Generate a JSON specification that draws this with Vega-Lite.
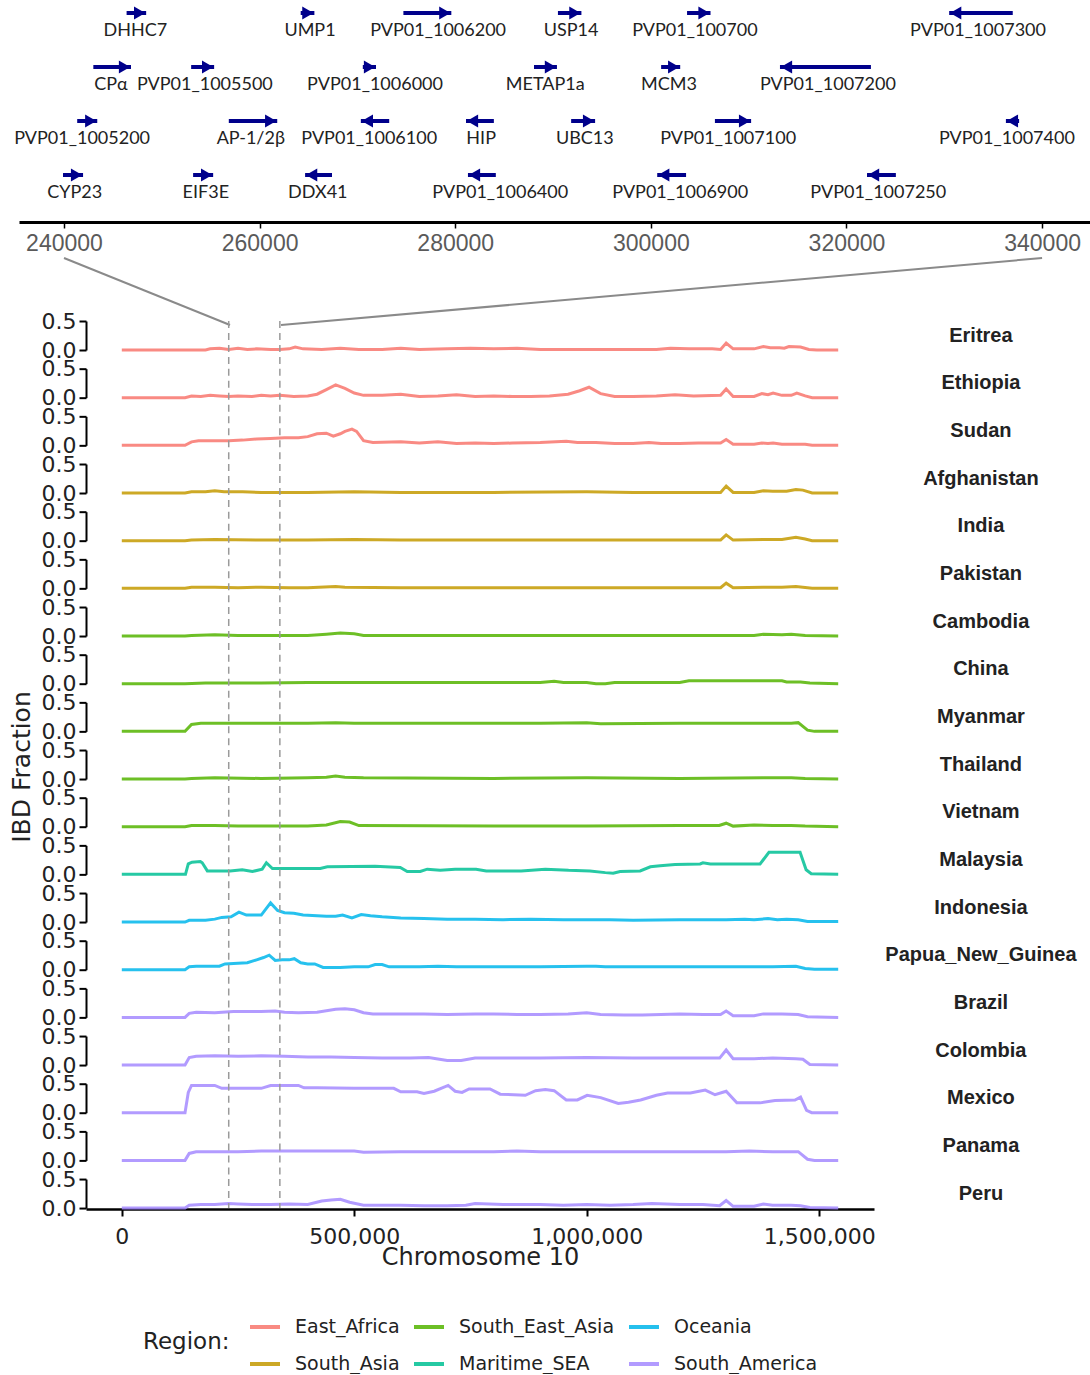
{
"$schema": "https://vega.github.io/schema/vega-lite/v6.json",
"padding": {"left": 9, "top": 0, "right": 0, "bottom": 0},
"background": "white",
"config": {"view": {"stroke": null}, "axis": {"grid": false}, "font": "DejaVu Sans"},
"datasets": {
"genes": [
{"g":"DHHC7","s":"+","t":1,"a":246400,"b":248400,"lx":247300},
{"g":"UMP1","s":"+","t":1,"a":264200,"b":265600,"lx":265150},
{"g":"PVP01_1006200","s":"+","t":1,"a":274700,"b":279600,"lx":278250},
{"g":"USP14","s":"+","t":1,"a":290500,"b":292900,"lx":291850},
{"g":"PVP01_100700","s":"+","t":1,"a":303700,"b":306100,"lx":304500},
{"g":"PVP01_1007300","s":"-","t":1,"a":330500,"b":337000,"lx":333450},
{"g":"CPα","s":"+","t":2,"a":243000,"b":246850,"lx":244800},
{"g":"PVP01_1005500","s":"+","t":2,"a":253000,"b":255350,"lx":254400},
{"g":"PVP01_1006000","s":"+","t":2,"a":270550,"b":271900,"lx":271800},
{"g":"METAP1a","s":"+","t":2,"a":288050,"b":290400,"lx":289200},
{"g":"MCM3","s":"+","t":2,"a":301050,"b":303000,"lx":301850},
{"g":"PVP01_1007200","s":"-","t":2,"a":313200,"b":322500,"lx":318100},
{"g":"PVP01_1005200","s":"+","t":3,"a":241350,"b":243400,"lx":241850},
{"g":"AP-1/2β","s":"+","t":3,"a":256850,"b":261800,"lx":259100},
{"g":"PVP01_1006100","s":"-","t":3,"a":270350,"b":273250,"lx":271200},
{"g":"HIP","s":"-","t":3,"a":281100,"b":283950,"lx":282650},
{"g":"UBC13","s":"+","t":3,"a":291850,"b":294300,"lx":293250},
{"g":"PVP01_1007100","s":"+","t":3,"a":306550,"b":310250,"lx":307900},
{"g":"PVP01_1007400","s":"-","t":3,"a":336300,"b":337650,"lx":336400},
{"g":"CYP23","s":"+","t":4,"a":239900,"b":241950,"lx":241100},
{"g":"EIF3E","s":"+","t":4,"a":253200,"b":255250,"lx":254500},
{"g":"DDX41","s":"-","t":4,"a":264650,"b":267400,"lx":265950},
{"g":"PVP01_1006400","s":"-","t":4,"a":281300,"b":284150,"lx":284600},
{"g":"PVP01_1006900","s":"-","t":4,"a":300650,"b":303600,"lx":303000},
{"g":"PVP01_1007250","s":"-","t":4,"a":322100,"b":325050,"lx":323250}
],
"links": [
{"x1":240000,"y1":5.537,"x2":256974,"y2":6.778},
{"x1":340000,"y1":5.537,"x2":262188,"y2":6.778}
],
"regions": [
{"c":"Eritrea","r":"East_Africa"},{"c":"Ethiopia","r":"East_Africa"},{"c":"Sudan","r":"East_Africa"},
{"c":"Afghanistan","r":"South_Asia"},{"c":"India","r":"South_Asia"},{"c":"Pakistan","r":"South_Asia"},
{"c":"Cambodia","r":"South_East_Asia"},{"c":"China","r":"South_East_Asia"},{"c":"Myanmar","r":"South_East_Asia"},{"c":"Thailand","r":"South_East_Asia"},{"c":"Vietnam","r":"South_East_Asia"},
{"c":"Malaysia","r":"Maritime_SEA"},
{"c":"Indonesia","r":"Oceania"},{"c":"Papua_New_Guinea","r":"Oceania"},
{"c":"Brazil","r":"South_America"},{"c":"Colombia","r":"South_America"},{"c":"Mexico","r":"South_America"},{"c":"Panama","r":"South_America"},{"c":"Peru","r":"South_America"}
],
"ibd": [
{"c":"Eritrea","p":0,"v":0},{"c":"Eritrea","p":136000,"v":0},{"c":"Eritrea","p":180000,"v":0},{"c":"Eritrea","p":190000,"v":0.02},{"c":"Eritrea","p":210000,"v":0.03},{"c":"Eritrea","p":230000,"v":0.01},{"c":"Eritrea","p":250000,"v":0.03},{"c":"Eritrea","p":270000,"v":0.01},{"c":"Eritrea","p":290000,"v":0.02},{"c":"Eritrea","p":320000,"v":0.01},{"c":"Eritrea","p":340000,"v":0.01},{"c":"Eritrea","p":360000,"v":0.02},{"c":"Eritrea","p":373000,"v":0.05},{"c":"Eritrea","p":390000,"v":0.02},{"c":"Eritrea","p":430000,"v":0.01},{"c":"Eritrea","p":470000,"v":0.03},{"c":"Eritrea","p":510000,"v":0.01},{"c":"Eritrea","p":560000,"v":0.01},{"c":"Eritrea","p":600000,"v":0.03},{"c":"Eritrea","p":640000,"v":0.01},{"c":"Eritrea","p":700000,"v":0.02},{"c":"Eritrea","p":750000,"v":0.03},{"c":"Eritrea","p":800000,"v":0.02},{"c":"Eritrea","p":850000,"v":0.03},{"c":"Eritrea","p":900000,"v":0.01},{"c":"Eritrea","p":1000000,"v":0.01},{"c":"Eritrea","p":1100000,"v":0.01},{"c":"Eritrea","p":1150000,"v":0.01},{"c":"Eritrea","p":1180000,"v":0.03},{"c":"Eritrea","p":1220000,"v":0.02},{"c":"Eritrea","p":1270000,"v":0.02},{"c":"Eritrea","p":1288000,"v":0.01},{"c":"Eritrea","p":1300000,"v":0.12},{"c":"Eritrea","p":1315000,"v":0.02},{"c":"Eritrea","p":1360000,"v":0.02},{"c":"Eritrea","p":1380000,"v":0.06},{"c":"Eritrea","p":1395000,"v":0.04},{"c":"Eritrea","p":1415000,"v":0.04},{"c":"Eritrea","p":1425000,"v":0.03},{"c":"Eritrea","p":1435000,"v":0.06},{"c":"Eritrea","p":1460000,"v":0.05},{"c":"Eritrea","p":1478000,"v":0.01},{"c":"Eritrea","p":1495000,"v":0},{"c":"Eritrea","p":1541000,"v":0},
{"c":"Ethiopia","p":0,"v":0},{"c":"Ethiopia","p":136000,"v":0},{"c":"Ethiopia","p":150000,"v":0.03},{"c":"Ethiopia","p":170000,"v":0.02},{"c":"Ethiopia","p":190000,"v":0.04},{"c":"Ethiopia","p":210000,"v":0.03},{"c":"Ethiopia","p":230000,"v":0.02},{"c":"Ethiopia","p":250000,"v":0.03},{"c":"Ethiopia","p":280000,"v":0.02},{"c":"Ethiopia","p":300000,"v":0.04},{"c":"Ethiopia","p":320000,"v":0.03},{"c":"Ethiopia","p":340000,"v":0.04},{"c":"Ethiopia","p":370000,"v":0.02},{"c":"Ethiopia","p":400000,"v":0.03},{"c":"Ethiopia","p":420000,"v":0.06},{"c":"Ethiopia","p":440000,"v":0.14},{"c":"Ethiopia","p":460000,"v":0.22},{"c":"Ethiopia","p":480000,"v":0.16},{"c":"Ethiopia","p":500000,"v":0.08},{"c":"Ethiopia","p":520000,"v":0.04},{"c":"Ethiopia","p":560000,"v":0.04},{"c":"Ethiopia","p":600000,"v":0.06},{"c":"Ethiopia","p":640000,"v":0.02},{"c":"Ethiopia","p":680000,"v":0.03},{"c":"Ethiopia","p":720000,"v":0.05},{"c":"Ethiopia","p":760000,"v":0.02},{"c":"Ethiopia","p":800000,"v":0.03},{"c":"Ethiopia","p":840000,"v":0.02},{"c":"Ethiopia","p":880000,"v":0.02},{"c":"Ethiopia","p":920000,"v":0.03},{"c":"Ethiopia","p":960000,"v":0.06},{"c":"Ethiopia","p":985000,"v":0.12},{"c":"Ethiopia","p":1005000,"v":0.18},{"c":"Ethiopia","p":1030000,"v":0.07},{"c":"Ethiopia","p":1060000,"v":0.02},{"c":"Ethiopia","p":1100000,"v":0.02},{"c":"Ethiopia","p":1150000,"v":0.03},{"c":"Ethiopia","p":1190000,"v":0.05},{"c":"Ethiopia","p":1230000,"v":0.03},{"c":"Ethiopia","p":1288000,"v":0.04},{"c":"Ethiopia","p":1300000,"v":0.15},{"c":"Ethiopia","p":1315000,"v":0.02},{"c":"Ethiopia","p":1360000,"v":0.02},{"c":"Ethiopia","p":1377000,"v":0.07},{"c":"Ethiopia","p":1390000,"v":0.05},{"c":"Ethiopia","p":1401000,"v":0.08},{"c":"Ethiopia","p":1420000,"v":0.04},{"c":"Ethiopia","p":1440000,"v":0.04},{"c":"Ethiopia","p":1452000,"v":0.08},{"c":"Ethiopia","p":1470000,"v":0.03},{"c":"Ethiopia","p":1485000,"v":0},{"c":"Ethiopia","p":1541000,"v":0},
{"c":"Sudan","p":0,"v":0},{"c":"Sudan","p":136000,"v":0},{"c":"Sudan","p":150000,"v":0.06},{"c":"Sudan","p":165000,"v":0.08},{"c":"Sudan","p":200000,"v":0.08},{"c":"Sudan","p":230000,"v":0.08},{"c":"Sudan","p":260000,"v":0.09},{"c":"Sudan","p":290000,"v":0.11},{"c":"Sudan","p":320000,"v":0.12},{"c":"Sudan","p":350000,"v":0.13},{"c":"Sudan","p":380000,"v":0.13},{"c":"Sudan","p":400000,"v":0.15},{"c":"Sudan","p":420000,"v":0.2},{"c":"Sudan","p":440000,"v":0.21},{"c":"Sudan","p":455000,"v":0.16},{"c":"Sudan","p":470000,"v":0.2},{"c":"Sudan","p":480000,"v":0.24},{"c":"Sudan","p":495000,"v":0.28},{"c":"Sudan","p":505000,"v":0.24},{"c":"Sudan","p":520000,"v":0.08},{"c":"Sudan","p":540000,"v":0.05},{"c":"Sudan","p":600000,"v":0.06},{"c":"Sudan","p":640000,"v":0.04},{"c":"Sudan","p":680000,"v":0.06},{"c":"Sudan","p":720000,"v":0.03},{"c":"Sudan","p":760000,"v":0.04},{"c":"Sudan","p":800000,"v":0.03},{"c":"Sudan","p":840000,"v":0.04},{"c":"Sudan","p":900000,"v":0.05},{"c":"Sudan","p":956000,"v":0.07},{"c":"Sudan","p":980000,"v":0.05},{"c":"Sudan","p":1020000,"v":0.05},{"c":"Sudan","p":1060000,"v":0.03},{"c":"Sudan","p":1100000,"v":0.03},{"c":"Sudan","p":1134000,"v":0.05},{"c":"Sudan","p":1160000,"v":0.03},{"c":"Sudan","p":1200000,"v":0.03},{"c":"Sudan","p":1240000,"v":0.04},{"c":"Sudan","p":1288000,"v":0.04},{"c":"Sudan","p":1300000,"v":0.1},{"c":"Sudan","p":1315000,"v":0.02},{"c":"Sudan","p":1360000,"v":0.02},{"c":"Sudan","p":1377000,"v":0.04},{"c":"Sudan","p":1390000,"v":0.03},{"c":"Sudan","p":1401000,"v":0.04},{"c":"Sudan","p":1420000,"v":0.02},{"c":"Sudan","p":1470000,"v":0.02},{"c":"Sudan","p":1485000,"v":0},{"c":"Sudan","p":1541000,"v":0},
{"c":"Afghanistan","p":0,"v":0},{"c":"Afghanistan","p":136000,"v":0},{"c":"Afghanistan","p":150000,"v":0.02},{"c":"Afghanistan","p":180000,"v":0.02},{"c":"Afghanistan","p":200000,"v":0.04},{"c":"Afghanistan","p":220000,"v":0.02},{"c":"Afghanistan","p":260000,"v":0.02},{"c":"Afghanistan","p":300000,"v":0.01},{"c":"Afghanistan","p":400000,"v":0.01},{"c":"Afghanistan","p":500000,"v":0.02},{"c":"Afghanistan","p":600000,"v":0.01},{"c":"Afghanistan","p":800000,"v":0.01},{"c":"Afghanistan","p":1000000,"v":0.02},{"c":"Afghanistan","p":1100000,"v":0.01},{"c":"Afghanistan","p":1200000,"v":0.01},{"c":"Afghanistan","p":1288000,"v":0.01},{"c":"Afghanistan","p":1300000,"v":0.12},{"c":"Afghanistan","p":1315000,"v":0.01},{"c":"Afghanistan","p":1360000,"v":0.01},{"c":"Afghanistan","p":1380000,"v":0.04},{"c":"Afghanistan","p":1400000,"v":0.03},{"c":"Afghanistan","p":1430000,"v":0.03},{"c":"Afghanistan","p":1450000,"v":0.06},{"c":"Afghanistan","p":1465000,"v":0.05},{"c":"Afghanistan","p":1485000,"v":0},{"c":"Afghanistan","p":1541000,"v":0},
{"c":"India","p":0,"v":0},{"c":"India","p":136000,"v":0},{"c":"India","p":150000,"v":0.01},{"c":"India","p":200000,"v":0.02},{"c":"India","p":300000,"v":0.01},{"c":"India","p":400000,"v":0.01},{"c":"India","p":500000,"v":0.02},{"c":"India","p":600000,"v":0.01},{"c":"India","p":800000,"v":0.01},{"c":"India","p":1000000,"v":0.01},{"c":"India","p":1200000,"v":0.01},{"c":"India","p":1288000,"v":0.01},{"c":"India","p":1300000,"v":0.1},{"c":"India","p":1315000,"v":0.01},{"c":"India","p":1380000,"v":0.02},{"c":"India","p":1420000,"v":0.02},{"c":"India","p":1450000,"v":0.06},{"c":"India","p":1470000,"v":0.03},{"c":"India","p":1485000,"v":0},{"c":"India","p":1541000,"v":0},
{"c":"Pakistan","p":0,"v":0},{"c":"Pakistan","p":136000,"v":0},{"c":"Pakistan","p":150000,"v":0.02},{"c":"Pakistan","p":200000,"v":0.02},{"c":"Pakistan","p":250000,"v":0.01},{"c":"Pakistan","p":300000,"v":0.02},{"c":"Pakistan","p":360000,"v":0.01},{"c":"Pakistan","p":400000,"v":0.01},{"c":"Pakistan","p":460000,"v":0.03},{"c":"Pakistan","p":480000,"v":0.02},{"c":"Pakistan","p":600000,"v":0.01},{"c":"Pakistan","p":800000,"v":0.01},{"c":"Pakistan","p":1000000,"v":0.01},{"c":"Pakistan","p":1200000,"v":0.01},{"c":"Pakistan","p":1288000,"v":0.01},{"c":"Pakistan","p":1300000,"v":0.09},{"c":"Pakistan","p":1315000,"v":0.01},{"c":"Pakistan","p":1380000,"v":0.02},{"c":"Pakistan","p":1420000,"v":0.02},{"c":"Pakistan","p":1450000,"v":0.03},{"c":"Pakistan","p":1485000,"v":0},{"c":"Pakistan","p":1541000,"v":0},
{"c":"Cambodia","p":0,"v":0},{"c":"Cambodia","p":136000,"v":0},{"c":"Cambodia","p":150000,"v":0.01},{"c":"Cambodia","p":200000,"v":0.02},{"c":"Cambodia","p":250000,"v":0.01},{"c":"Cambodia","p":300000,"v":0.01},{"c":"Cambodia","p":400000,"v":0.01},{"c":"Cambodia","p":440000,"v":0.03},{"c":"Cambodia","p":470000,"v":0.05},{"c":"Cambodia","p":500000,"v":0.04},{"c":"Cambodia","p":520000,"v":0.01},{"c":"Cambodia","p":800000,"v":0.01},{"c":"Cambodia","p":1000000,"v":0.01},{"c":"Cambodia","p":1200000,"v":0.01},{"c":"Cambodia","p":1360000,"v":0.01},{"c":"Cambodia","p":1380000,"v":0.03},{"c":"Cambodia","p":1420000,"v":0.02},{"c":"Cambodia","p":1440000,"v":0.03},{"c":"Cambodia","p":1470000,"v":0.01},{"c":"Cambodia","p":1541000,"v":0},
{"c":"China","p":0,"v":0},{"c":"China","p":136000,"v":0},{"c":"China","p":180000,"v":0.01},{"c":"China","p":300000,"v":0.01},{"c":"China","p":400000,"v":0.02},{"c":"China","p":500000,"v":0.02},{"c":"China","p":800000,"v":0.02},{"c":"China","p":900000,"v":0.02},{"c":"China","p":930000,"v":0.04},{"c":"China","p":950000,"v":0.02},{"c":"China","p":1000000,"v":0.02},{"c":"China","p":1020000,"v":0},{"c":"China","p":1040000,"v":0},{"c":"China","p":1060000,"v":0.02},{"c":"China","p":1200000,"v":0.02},{"c":"China","p":1220000,"v":0.05},{"c":"China","p":1420000,"v":0.05},{"c":"China","p":1430000,"v":0.03},{"c":"China","p":1460000,"v":0.03},{"c":"China","p":1480000,"v":0.01},{"c":"China","p":1541000,"v":0},
{"c":"Myanmar","p":0,"v":0},{"c":"Myanmar","p":136000,"v":0},{"c":"Myanmar","p":150000,"v":0.12},{"c":"Myanmar","p":170000,"v":0.14},{"c":"Myanmar","p":300000,"v":0.14},{"c":"Myanmar","p":400000,"v":0.14},{"c":"Myanmar","p":460000,"v":0.15},{"c":"Myanmar","p":500000,"v":0.14},{"c":"Myanmar","p":700000,"v":0.14},{"c":"Myanmar","p":900000,"v":0.14},{"c":"Myanmar","p":1000000,"v":0.15},{"c":"Myanmar","p":1030000,"v":0.13},{"c":"Myanmar","p":1200000,"v":0.14},{"c":"Myanmar","p":1300000,"v":0.14},{"c":"Myanmar","p":1440000,"v":0.14},{"c":"Myanmar","p":1455000,"v":0.15},{"c":"Myanmar","p":1475000,"v":0.02},{"c":"Myanmar","p":1490000,"v":0},{"c":"Myanmar","p":1541000,"v":0},
{"c":"Thailand","p":0,"v":0},{"c":"Thailand","p":136000,"v":0},{"c":"Thailand","p":150000,"v":0.01},{"c":"Thailand","p":200000,"v":0.02},{"c":"Thailand","p":300000,"v":0.01},{"c":"Thailand","p":400000,"v":0.02},{"c":"Thailand","p":440000,"v":0.03},{"c":"Thailand","p":460000,"v":0.05},{"c":"Thailand","p":480000,"v":0.03},{"c":"Thailand","p":520000,"v":0.02},{"c":"Thailand","p":800000,"v":0.01},{"c":"Thailand","p":1000000,"v":0.02},{"c":"Thailand","p":1200000,"v":0.01},{"c":"Thailand","p":1380000,"v":0.02},{"c":"Thailand","p":1440000,"v":0.02},{"c":"Thailand","p":1470000,"v":0.01},{"c":"Thailand","p":1541000,"v":0},
{"c":"Vietnam","p":0,"v":0},{"c":"Vietnam","p":136000,"v":0},{"c":"Vietnam","p":150000,"v":0.02},{"c":"Vietnam","p":200000,"v":0.02},{"c":"Vietnam","p":250000,"v":0.01},{"c":"Vietnam","p":300000,"v":0.01},{"c":"Vietnam","p":400000,"v":0.01},{"c":"Vietnam","p":440000,"v":0.03},{"c":"Vietnam","p":470000,"v":0.09},{"c":"Vietnam","p":490000,"v":0.08},{"c":"Vietnam","p":510000,"v":0.02},{"c":"Vietnam","p":800000,"v":0.01},{"c":"Vietnam","p":1000000,"v":0.01},{"c":"Vietnam","p":1200000,"v":0.02},{"c":"Vietnam","p":1285000,"v":0.02},{"c":"Vietnam","p":1300000,"v":0.06},{"c":"Vietnam","p":1315000,"v":0.01},{"c":"Vietnam","p":1360000,"v":0.03},{"c":"Vietnam","p":1400000,"v":0.02},{"c":"Vietnam","p":1440000,"v":0.02},{"c":"Vietnam","p":1470000,"v":0.01},{"c":"Vietnam","p":1541000,"v":0},
{"c":"Malaysia","p":0,"v":0},{"c":"Malaysia","p":137000,"v":0},{"c":"Malaysia","p":143000,"v":0.18},{"c":"Malaysia","p":151000,"v":0.21},{"c":"Malaysia","p":169000,"v":0.22},{"c":"Malaysia","p":173000,"v":0.2},{"c":"Malaysia","p":184000,"v":0.06},{"c":"Malaysia","p":233000,"v":0.06},{"c":"Malaysia","p":259000,"v":0.08},{"c":"Malaysia","p":281000,"v":0.05},{"c":"Malaysia","p":302000,"v":0.09},{"c":"Malaysia","p":311000,"v":0.2},{"c":"Malaysia","p":324000,"v":0.1},{"c":"Malaysia","p":427000,"v":0.1},{"c":"Malaysia","p":442000,"v":0.13},{"c":"Malaysia","p":545000,"v":0.14},{"c":"Malaysia","p":599000,"v":0.12},{"c":"Malaysia","p":614000,"v":0.05},{"c":"Malaysia","p":642000,"v":0.05},{"c":"Malaysia","p":657000,"v":0.09},{"c":"Malaysia","p":685000,"v":0.07},{"c":"Malaysia","p":717000,"v":0.09},{"c":"Malaysia","p":762000,"v":0.09},{"c":"Malaysia","p":784000,"v":0.06},{"c":"Malaysia","p":859000,"v":0.06},{"c":"Malaysia","p":911000,"v":0.09},{"c":"Malaysia","p":961000,"v":0.07},{"c":"Malaysia","p":1007000,"v":0.06},{"c":"Malaysia","p":1040000,"v":0.03},{"c":"Malaysia","p":1057000,"v":0.02},{"c":"Malaysia","p":1072000,"v":0.05},{"c":"Malaysia","p":1115000,"v":0.06},{"c":"Malaysia","p":1137000,"v":0.13},{"c":"Malaysia","p":1158000,"v":0.15},{"c":"Malaysia","p":1190000,"v":0.17},{"c":"Malaysia","p":1244000,"v":0.18},{"c":"Malaysia","p":1250000,"v":0.2},{"c":"Malaysia","p":1266000,"v":0.18},{"c":"Malaysia","p":1373000,"v":0.18},{"c":"Malaysia","p":1392000,"v":0.38},{"c":"Malaysia","p":1459000,"v":0.38},{"c":"Malaysia","p":1472000,"v":0.08},{"c":"Malaysia","p":1483000,"v":0.01},{"c":"Malaysia","p":1541000,"v":0},
{"c":"Indonesia","p":0,"v":0},{"c":"Indonesia","p":136000,"v":0},{"c":"Indonesia","p":145000,"v":0.03},{"c":"Indonesia","p":180000,"v":0.03},{"c":"Indonesia","p":200000,"v":0.05},{"c":"Indonesia","p":215000,"v":0.08},{"c":"Indonesia","p":235000,"v":0.09},{"c":"Indonesia","p":252000,"v":0.17},{"c":"Indonesia","p":268000,"v":0.12},{"c":"Indonesia","p":300000,"v":0.12},{"c":"Indonesia","p":320000,"v":0.33},{"c":"Indonesia","p":335000,"v":0.2},{"c":"Indonesia","p":350000,"v":0.16},{"c":"Indonesia","p":370000,"v":0.15},{"c":"Indonesia","p":390000,"v":0.12},{"c":"Indonesia","p":420000,"v":0.11},{"c":"Indonesia","p":440000,"v":0.1},{"c":"Indonesia","p":460000,"v":0.1},{"c":"Indonesia","p":475000,"v":0.12},{"c":"Indonesia","p":495000,"v":0.07},{"c":"Indonesia","p":515000,"v":0.13},{"c":"Indonesia","p":535000,"v":0.11},{"c":"Indonesia","p":560000,"v":0.09},{"c":"Indonesia","p":600000,"v":0.07},{"c":"Indonesia","p":650000,"v":0.06},{"c":"Indonesia","p":700000,"v":0.05},{"c":"Indonesia","p":760000,"v":0.05},{"c":"Indonesia","p":820000,"v":0.04},{"c":"Indonesia","p":880000,"v":0.05},{"c":"Indonesia","p":950000,"v":0.04},{"c":"Indonesia","p":1000000,"v":0.04},{"c":"Indonesia","p":1050000,"v":0.04},{"c":"Indonesia","p":1100000,"v":0.03},{"c":"Indonesia","p":1200000,"v":0.04},{"c":"Indonesia","p":1300000,"v":0.04},{"c":"Indonesia","p":1340000,"v":0.05},{"c":"Indonesia","p":1360000,"v":0.04},{"c":"Indonesia","p":1390000,"v":0.06},{"c":"Indonesia","p":1410000,"v":0.04},{"c":"Indonesia","p":1430000,"v":0.05},{"c":"Indonesia","p":1455000,"v":0.04},{"c":"Indonesia","p":1475000,"v":0.01},{"c":"Indonesia","p":1541000,"v":0.01},
{"c":"Papua_New_Guinea","p":0,"v":0},{"c":"Papua_New_Guinea","p":136000,"v":0},{"c":"Papua_New_Guinea","p":145000,"v":0.05},{"c":"Papua_New_Guinea","p":160000,"v":0.06},{"c":"Papua_New_Guinea","p":210000,"v":0.06},{"c":"Papua_New_Guinea","p":222000,"v":0.1},{"c":"Papua_New_Guinea","p":250000,"v":0.11},{"c":"Papua_New_Guinea","p":270000,"v":0.12},{"c":"Papua_New_Guinea","p":290000,"v":0.17},{"c":"Papua_New_Guinea","p":305000,"v":0.21},{"c":"Papua_New_Guinea","p":317000,"v":0.25},{"c":"Papua_New_Guinea","p":330000,"v":0.16},{"c":"Papua_New_Guinea","p":345000,"v":0.17},{"c":"Papua_New_Guinea","p":360000,"v":0.17},{"c":"Papua_New_Guinea","p":371000,"v":0.19},{"c":"Papua_New_Guinea","p":385000,"v":0.12},{"c":"Papua_New_Guinea","p":400000,"v":0.1},{"c":"Papua_New_Guinea","p":415000,"v":0.1},{"c":"Papua_New_Guinea","p":433000,"v":0.04},{"c":"Papua_New_Guinea","p":470000,"v":0.04},{"c":"Papua_New_Guinea","p":500000,"v":0.05},{"c":"Papua_New_Guinea","p":530000,"v":0.05},{"c":"Papua_New_Guinea","p":545000,"v":0.09},{"c":"Papua_New_Guinea","p":560000,"v":0.09},{"c":"Papua_New_Guinea","p":575000,"v":0.05},{"c":"Papua_New_Guinea","p":640000,"v":0.05},{"c":"Papua_New_Guinea","p":680000,"v":0.06},{"c":"Papua_New_Guinea","p":720000,"v":0.05},{"c":"Papua_New_Guinea","p":800000,"v":0.05},{"c":"Papua_New_Guinea","p":900000,"v":0.05},{"c":"Papua_New_Guinea","p":1000000,"v":0.06},{"c":"Papua_New_Guinea","p":1020000,"v":0.06},{"c":"Papua_New_Guinea","p":1040000,"v":0.05},{"c":"Papua_New_Guinea","p":1200000,"v":0.05},{"c":"Papua_New_Guinea","p":1300000,"v":0.05},{"c":"Papua_New_Guinea","p":1400000,"v":0.05},{"c":"Papua_New_Guinea","p":1450000,"v":0.06},{"c":"Papua_New_Guinea","p":1470000,"v":0.02},{"c":"Papua_New_Guinea","p":1490000,"v":0.01},{"c":"Papua_New_Guinea","p":1541000,"v":0.01},
{"c":"Brazil","p":0,"v":0},{"c":"Brazil","p":136000,"v":0},{"c":"Brazil","p":145000,"v":0.07},{"c":"Brazil","p":160000,"v":0.09},{"c":"Brazil","p":200000,"v":0.08},{"c":"Brazil","p":240000,"v":0.1},{"c":"Brazil","p":270000,"v":0.1},{"c":"Brazil","p":300000,"v":0.1},{"c":"Brazil","p":330000,"v":0.11},{"c":"Brazil","p":350000,"v":0.09},{"c":"Brazil","p":380000,"v":0.08},{"c":"Brazil","p":420000,"v":0.09},{"c":"Brazil","p":460000,"v":0.14},{"c":"Brazil","p":480000,"v":0.15},{"c":"Brazil","p":500000,"v":0.13},{"c":"Brazil","p":520000,"v":0.08},{"c":"Brazil","p":540000,"v":0.06},{"c":"Brazil","p":600000,"v":0.06},{"c":"Brazil","p":650000,"v":0.06},{"c":"Brazil","p":700000,"v":0.05},{"c":"Brazil","p":760000,"v":0.06},{"c":"Brazil","p":800000,"v":0.06},{"c":"Brazil","p":850000,"v":0.05},{"c":"Brazil","p":900000,"v":0.05},{"c":"Brazil","p":960000,"v":0.06},{"c":"Brazil","p":1000000,"v":0.08},{"c":"Brazil","p":1030000,"v":0.05},{"c":"Brazil","p":1080000,"v":0.04},{"c":"Brazil","p":1120000,"v":0.04},{"c":"Brazil","p":1160000,"v":0.05},{"c":"Brazil","p":1200000,"v":0.06},{"c":"Brazil","p":1250000,"v":0.05},{"c":"Brazil","p":1288000,"v":0.05},{"c":"Brazil","p":1300000,"v":0.11},{"c":"Brazil","p":1315000,"v":0.03},{"c":"Brazil","p":1360000,"v":0.03},{"c":"Brazil","p":1380000,"v":0.06},{"c":"Brazil","p":1420000,"v":0.06},{"c":"Brazil","p":1455000,"v":0.05},{"c":"Brazil","p":1475000,"v":0.01},{"c":"Brazil","p":1541000,"v":0},
{"c":"Colombia","p":0,"v":0},{"c":"Colombia","p":136000,"v":0},{"c":"Colombia","p":145000,"v":0.13},{"c":"Colombia","p":160000,"v":0.15},{"c":"Colombia","p":200000,"v":0.16},{"c":"Colombia","p":250000,"v":0.15},{"c":"Colombia","p":300000,"v":0.16},{"c":"Colombia","p":350000,"v":0.15},{"c":"Colombia","p":400000,"v":0.14},{"c":"Colombia","p":450000,"v":0.14},{"c":"Colombia","p":500000,"v":0.13},{"c":"Colombia","p":560000,"v":0.12},{"c":"Colombia","p":620000,"v":0.12},{"c":"Colombia","p":660000,"v":0.13},{"c":"Colombia","p":700000,"v":0.08},{"c":"Colombia","p":730000,"v":0.08},{"c":"Colombia","p":760000,"v":0.12},{"c":"Colombia","p":800000,"v":0.12},{"c":"Colombia","p":900000,"v":0.12},{"c":"Colombia","p":1000000,"v":0.13},{"c":"Colombia","p":1100000,"v":0.12},{"c":"Colombia","p":1200000,"v":0.12},{"c":"Colombia","p":1286000,"v":0.12},{"c":"Colombia","p":1300000,"v":0.26},{"c":"Colombia","p":1315000,"v":0.11},{"c":"Colombia","p":1360000,"v":0.11},{"c":"Colombia","p":1400000,"v":0.12},{"c":"Colombia","p":1450000,"v":0.11},{"c":"Colombia","p":1465000,"v":0.1},{"c":"Colombia","p":1480000,"v":0.01},{"c":"Colombia","p":1541000,"v":0},
{"c":"Mexico","p":0,"v":0},{"c":"Mexico","p":136000,"v":0},{"c":"Mexico","p":143000,"v":0.35},{"c":"Mexico","p":150000,"v":0.47},{"c":"Mexico","p":200000,"v":0.47},{"c":"Mexico","p":215000,"v":0.42},{"c":"Mexico","p":300000,"v":0.42},{"c":"Mexico","p":320000,"v":0.47},{"c":"Mexico","p":380000,"v":0.47},{"c":"Mexico","p":392000,"v":0.43},{"c":"Mexico","p":420000,"v":0.43},{"c":"Mexico","p":500000,"v":0.42},{"c":"Mexico","p":585000,"v":0.42},{"c":"Mexico","p":600000,"v":0.36},{"c":"Mexico","p":635000,"v":0.36},{"c":"Mexico","p":650000,"v":0.33},{"c":"Mexico","p":672000,"v":0.37},{"c":"Mexico","p":702000,"v":0.47},{"c":"Mexico","p":717000,"v":0.37},{"c":"Mexico","p":732000,"v":0.35},{"c":"Mexico","p":747000,"v":0.41},{"c":"Mexico","p":792000,"v":0.41},{"c":"Mexico","p":814000,"v":0.32},{"c":"Mexico","p":868000,"v":0.3},{"c":"Mexico","p":890000,"v":0.38},{"c":"Mexico","p":911000,"v":0.4},{"c":"Mexico","p":930000,"v":0.38},{"c":"Mexico","p":956000,"v":0.22},{"c":"Mexico","p":980000,"v":0.22},{"c":"Mexico","p":1001000,"v":0.3},{"c":"Mexico","p":1030000,"v":0.26},{"c":"Mexico","p":1068000,"v":0.16},{"c":"Mexico","p":1090000,"v":0.18},{"c":"Mexico","p":1116000,"v":0.22},{"c":"Mexico","p":1150000,"v":0.3},{"c":"Mexico","p":1174000,"v":0.34},{"c":"Mexico","p":1223000,"v":0.34},{"c":"Mexico","p":1255000,"v":0.39},{"c":"Mexico","p":1276000,"v":0.31},{"c":"Mexico","p":1300000,"v":0.37},{"c":"Mexico","p":1323000,"v":0.17},{"c":"Mexico","p":1373000,"v":0.17},{"c":"Mexico","p":1405000,"v":0.21},{"c":"Mexico","p":1448000,"v":0.22},{"c":"Mexico","p":1460000,"v":0.27},{"c":"Mexico","p":1473000,"v":0.04},{"c":"Mexico","p":1484000,"v":0},{"c":"Mexico","p":1541000,"v":0},
{"c":"Panama","p":0,"v":0},{"c":"Panama","p":136000,"v":0},{"c":"Panama","p":145000,"v":0.12},{"c":"Panama","p":160000,"v":0.15},{"c":"Panama","p":250000,"v":0.15},{"c":"Panama","p":300000,"v":0.16},{"c":"Panama","p":400000,"v":0.16},{"c":"Panama","p":500000,"v":0.16},{"c":"Panama","p":520000,"v":0.14},{"c":"Panama","p":600000,"v":0.15},{"c":"Panama","p":700000,"v":0.15},{"c":"Panama","p":800000,"v":0.15},{"c":"Panama","p":850000,"v":0.16},{"c":"Panama","p":900000,"v":0.15},{"c":"Panama","p":1000000,"v":0.15},{"c":"Panama","p":1100000,"v":0.15},{"c":"Panama","p":1200000,"v":0.15},{"c":"Panama","p":1300000,"v":0.15},{"c":"Panama","p":1350000,"v":0.16},{"c":"Panama","p":1400000,"v":0.15},{"c":"Panama","p":1455000,"v":0.15},{"c":"Panama","p":1475000,"v":0.02},{"c":"Panama","p":1490000,"v":0},{"c":"Panama","p":1541000,"v":0},
{"c":"Peru","p":0,"v":0},{"c":"Peru","p":136000,"v":0},{"c":"Peru","p":145000,"v":0.05},{"c":"Peru","p":170000,"v":0.06},{"c":"Peru","p":200000,"v":0.06},{"c":"Peru","p":230000,"v":0.08},{"c":"Peru","p":250000,"v":0.07},{"c":"Peru","p":280000,"v":0.06},{"c":"Peru","p":320000,"v":0.06},{"c":"Peru","p":360000,"v":0.07},{"c":"Peru","p":400000,"v":0.06},{"c":"Peru","p":430000,"v":0.12},{"c":"Peru","p":450000,"v":0.14},{"c":"Peru","p":470000,"v":0.15},{"c":"Peru","p":490000,"v":0.1},{"c":"Peru","p":520000,"v":0.05},{"c":"Peru","p":560000,"v":0.05},{"c":"Peru","p":600000,"v":0.05},{"c":"Peru","p":650000,"v":0.04},{"c":"Peru","p":700000,"v":0.04},{"c":"Peru","p":740000,"v":0.05},{"c":"Peru","p":760000,"v":0.08},{"c":"Peru","p":790000,"v":0.07},{"c":"Peru","p":820000,"v":0.06},{"c":"Peru","p":850000,"v":0.06},{"c":"Peru","p":900000,"v":0.06},{"c":"Peru","p":950000,"v":0.05},{"c":"Peru","p":1000000,"v":0.06},{"c":"Peru","p":1050000,"v":0.05},{"c":"Peru","p":1100000,"v":0.06},{"c":"Peru","p":1140000,"v":0.08},{"c":"Peru","p":1170000,"v":0.07},{"c":"Peru","p":1200000,"v":0.06},{"c":"Peru","p":1250000,"v":0.06},{"c":"Peru","p":1286000,"v":0.04},{"c":"Peru","p":1300000,"v":0.13},{"c":"Peru","p":1315000,"v":0.03},{"c":"Peru","p":1360000,"v":0.03},{"c":"Peru","p":1380000,"v":0.07},{"c":"Peru","p":1400000,"v":0.05},{"c":"Peru","p":1440000,"v":0.05},{"c":"Peru","p":1460000,"v":0.04},{"c":"Peru","p":1480000,"v":0.01},{"c":"Peru","p":1541000,"v":0}
]
},
"bounds": "flush",
"spacing": 99,
"resolve": {"scale": {"x": "independent", "y": "independent"}},
"vconcat": [
{
"width": 1072, "height": 222,
"layer": [
{"data": {"name": "genes"},
 "mark": {"type": "rule", "color": "#00008B", "strokeWidth": 4},
 "encoding": {
  "x": {"field": "a", "type": "quantitative", "scale": {"domain": [235400, 345000], "nice": false, "zero": false},
        "axis": {"orient": "bottom", "values": [240000, 260000, 280000, 300000, 320000, 340000], "format": "d", "title": null, "grid": false, "domainColor": "#000", "domainWidth": 3, "tickColor": "#000", "tickWidth": 1.5, "tickSize": 6, "labelColor": "#5a5a5a", "labelFontSize": 23, "labelFont": "Liberation Sans", "labelPadding": 4, "labelFlush": false}},
  "x2": {"field": "b"},
  "y": {"field": "t", "type": "quantitative", "scale": {"domain": [0.759, 4.87], "reverse": true, "nice": false, "zero": false}, "axis": null}
 }},
{"data": {"name": "genes"},
 "transform": [{"filter": "datum.s === '+'"}],
 "mark": {"type": "point", "shape": "triangle-right", "filled": true, "size": 170, "color": "#00008B", "opacity": 1, "xOffset": -6.5},
 "encoding": {
  "x": {"field": "b", "type": "quantitative", "axis": {"title": null}},
  "y": {"field": "t", "type": "quantitative", "axis": null}
 }},
{"data": {"name": "genes"},
 "transform": [{"filter": "datum.s === '-'"}],
 "mark": {"type": "point", "shape": "triangle-left", "filled": true, "size": 170, "color": "#00008B", "opacity": 1, "xOffset": 6.5},
 "encoding": {
  "x": {"field": "a", "type": "quantitative", "axis": {"title": null}},
  "y": {"field": "t", "type": "quantitative", "axis": null}
 }},
{"data": {"name": "genes"},
 "mark": {"type": "text", "font": "Lato", "fontSize": 18, "color": "#222", "dy": 18, "baseline": "middle", "align": "center"},
 "encoding": {
  "x": {"field": "lx", "type": "quantitative", "axis": {"title": null}},
  "y": {"field": "t", "type": "quantitative", "axis": null},
  "text": {"field": "g"}
 }},
{"data": {"name": "links"},
 "mark": {"type": "rule", "color": "#8a8a8a", "strokeWidth": 2},
 "encoding": {
  "x": {"field": "x1", "type": "quantitative", "axis": {"title": null}},
  "x2": {"field": "x2"},
  "y": {"field": "y1", "type": "quantitative", "axis": null},
  "y2": {"field": "y2"}
 }}
]
},
{
"hconcat": [
{"width": 67, "height": 10, "data": {"values": []}, "mark": "rule", "encoding": {}},
{
"data": {"name": "ibd"},
"transform": [{"lookup": "c", "from": {"data": {"name": "regions"}, "key": "c", "fields": ["r"]}}],
"bounds": "flush",
"spacing": {"row": 18.67},
"facet": {"row": {"field": "c", "type": "nominal",
  "sort": ["Eritrea","Ethiopia","Sudan","Afghanistan","India","Pakistan","Cambodia","China","Myanmar","Thailand","Vietnam","Malaysia","Indonesia","Papua_New_Guinea","Brazil","Colombia","Mexico","Panama","Peru"],
  "header": {"title": "IBD Fraction", "titleOrient": "left", "titleFontSize": 25, "titleFont": "DejaVu Sans", "titleFontWeight": "normal", "titleColor": "#222", "titlePadding": -4, "labels": false}}},
"spec": {
 "width": 788, "height": 29,
 "layer": [
  {"mark": {"type": "line", "strokeWidth": 3, "opacity": 0.85},
   "encoding": {
    "x": {"field": "p", "type": "quantitative", "scale": {"domain": [-77000, 1618000], "nice": false, "zero": false},
          "axis": {"values": [0, 500000, 1000000, 1500000], "format": ",d", "title": "Chromosome 10", "titleFontSize": 24, "titleFontWeight": "normal", "titleColor": "#222", "titlePadding": -2, "labelFontSize": 22, "labelColor": "#222", "labelPadding": 10, "labelFlush": false, "grid": false, "domainColor": "#000", "domainWidth": 2.5, "tickColor": "#000", "tickWidth": 2, "tickSize": 7}},
    "y": {"field": "v", "type": "quantitative", "scale": {"domain": [0, 0.5], "nice": false, "zero": false},
          "axis": {"values": [0, 0.5], "format": ".1f", "title": null, "grid": false, "labelFontSize": 22, "labelColor": "#222", "labelPadding": 3, "domainColor": "#000", "domainWidth": 2, "tickColor": "#000", "tickWidth": 2, "tickSize": 7}},
    "color": {"field": "r", "type": "nominal",
      "scale": {"domain": ["East_Africa","South_East_Asia","Oceania","South_Asia","Maritime_SEA","South_America"], "range": ["#F8766D","#53B400","#00B6EB","#C49A00","#00C094","#A58AFF"]},
      "legend": {"orient": "none", "legendX": 124, "legendY": 1310, "title": "Region:", "titleOrient": "left", "direction": "horizontal", "columns": 3, "symbolType": "stroke", "symbolStrokeWidth": 4, "symbolSize": 900, "symbolOpacity": 0.85, "labelFontSize": 19, "labelFont": "DejaVu Sans", "labelColor": "#222", "titleFontSize": 23, "titleFont": "DejaVu Sans", "titleFontWeight": "normal", "titleColor": "#222", "columnPadding": 6, "rowPadding": 10, "labelOffset": 13, "titlePadding": 18}}
   }},
  {"transform": [{"aggregate": [{"op": "count", "as": "n"}], "groupby": ["c"]}],
   "mark": {"type": "text", "font": "Liberation Sans", "fontSize": 20, "fontWeight": "bold", "color": "#222", "align": "center", "baseline": "middle"},
   "encoding": {"x": {"datum": 1848000}, "y": {"datum": 0.25}, "text": {"field": "c"}}},
  {"transform": [{"aggregate": [{"op": "count", "as": "n"}], "groupby": ["c"]}, {"filter": "datum.c !== 'Peru'"}],
   "layer": [
    {"mark": {"type": "rule", "color": "#9a9a9a", "strokeWidth": 1.5, "strokeDash": [7, 5]},
     "encoding": {"x": {"datum": 230000}, "y": {"datum": 0.5}, "y2": {"datum": -0.322}}},
    {"mark": {"type": "rule", "color": "#9a9a9a", "strokeWidth": 1.5, "strokeDash": [7, 5]},
     "encoding": {"x": {"datum": 340000}, "y": {"datum": 0.5}, "y2": {"datum": -0.322}}}
   ]},
  {"transform": [{"aggregate": [{"op": "count", "as": "n"}], "groupby": ["c"]}, {"filter": "datum.c === 'Peru'"}],
   "layer": [
    {"mark": {"type": "rule", "color": "#9a9a9a", "strokeWidth": 1.5, "strokeDash": [7, 5]},
     "encoding": {"x": {"datum": 230000}, "y": {"datum": 0.5}, "y2": {"datum": 0}}},
    {"mark": {"type": "rule", "color": "#9a9a9a", "strokeWidth": 1.5, "strokeDash": [7, 5]},
     "encoding": {"x": {"datum": 340000}, "y": {"datum": 0.5}, "y2": {"datum": 0}}}
   ]}
 ]
}
}
],
"spacing": 0,
"bounds": "flush"
}
]
}
